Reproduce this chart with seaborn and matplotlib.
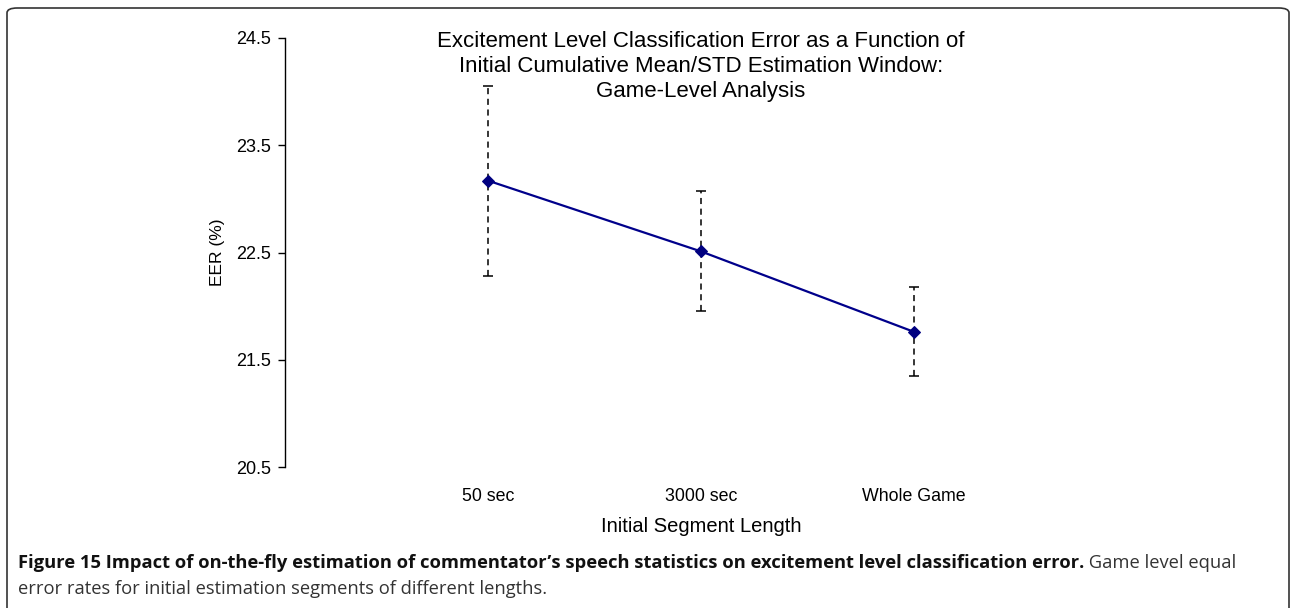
import matplotlib
matplotlib.use("Agg")
import matplotlib.pyplot as plt
from matplotlib.patches import FancyBboxPatch
import seaborn as sns
import pandas as pd

categories = ["50 sec", "3000 sec", "Whole Game"]
eer = [23.17, 22.51, 21.76]
err_upper = [24.05, 23.07, 22.18]
err_lower = [22.28, 21.95, 21.35]
yticks = [20.5, 21.5, 22.5, 23.5, 24.5]

title = ("Excitement Level Classification Error as a Function of\n"
         "Initial Cumulative Mean/STD Estimation Window:\n"
         "Game-Level Analysis")
caption_bold = "Figure 15 Impact of on-the-fly estimation of commentator\u2019s speech statistics on excitement level classification error."
caption_rest1 = " Game level equal"
caption_line2 = "error rates for initial estimation segments of different lengths."

sns.set_theme(style="white")
plt.rcParams['font.family'] = ['Liberation Sans', 'DejaVu Sans']

W, H = 1292, 608
fig = plt.figure(figsize=(W / 100, H / 100), dpi=100)
ax = fig.add_axes([285 / W, 1 - 467 / H, (1117 - 285) / W, (467 - 38) / H])

df = pd.DataFrame({"Initial Segment Length": categories, "EER (%)": eer})
xpos = list(range(len(categories)))
yerr = [[e - l for e, l in zip(eer, err_lower)], [u - e for e, u in zip(eer, err_upper)]]
eb = ax.errorbar(xpos, eer, yerr=yerr, fmt='none', ecolor='black', elinewidth=1.1,
                 capsize=3.5, capthick=1.1, zorder=2)
for lc in eb[2]:
    lc.set_linestyle((0, (4, 3)))

sns.lineplot(data=df, x="Initial Segment Length", y="EER (%)", ax=ax, color="#00008B",
             marker="D", markersize=6.5, markeredgecolor="#000080", markerfacecolor="#000080",
             linewidth=1.6, sort=False, zorder=3)

ax.set_xlim(-0.953, 2.953)
ax.set_ylim(20.5, 24.5)
ax.set_yticks(yticks)
ax.set_yticklabels([f"{t:.1f}" for t in yticks])
ax.set_xticks(xpos)
ax.set_xticklabels(categories)
for s in ["top", "right", "bottom"]:
    ax.spines[s].set_visible(False)
ax.spines["left"].set_color("black")
ax.spines["left"].set_linewidth(1.0)
ax.tick_params(axis="y", which="major", left=True, length=5, width=1, color="black",
               labelsize=13, pad=5, labelcolor="black")
ax.tick_params(axis="x", bottom=False, labelsize=12.8, pad=9, labelcolor="black")
ax.set_xlabel("Initial Segment Length", fontsize=14.5, labelpad=9, color="black")
ax.set_ylabel("EER (%)", fontsize=12.5, labelpad=8, color="black")

ax.text(0.5, (467 - 31) / 429, title, transform=ax.transAxes, ha="center", va="top",
        fontsize=16, linespacing=1.25, color="black")

# border
border = FancyBboxPatch((7 / W, -0.1), (1289 - 7) / W, 1 - 8 / H + 0.1,
                        boxstyle="round,pad=0,rounding_size=0.008",
                        transform=fig.transFigure, fill=False, edgecolor="#333333",
                        linewidth=1.2, clip_on=False)
fig.patches.append(border)

# caption (font size fitted so the first line spans like the original)
cap_font = ['Open Sans', 'DejaVu Sans']
base = 12
y1 = 1 - 563 / H
t1 = fig.text(18 / W, y1, caption_bold, fontsize=base, fontweight="bold",
              family=cap_font, va="center", ha="left", color="#111111")
t2 = fig.text(0, y1, caption_rest1, fontsize=base, family=cap_font,
              va="center", ha="left", color="#333333")
fig.canvas.draw()
r = fig.canvas.get_renderer()
total = t1.get_window_extent(r).width + t2.get_window_extent(r).width
size = base * (1235 - 18) / total
t1.set_fontsize(size)
t2.set_fontsize(size)
fig.canvas.draw()
bb = t1.get_window_extent(r)
t2.set_x(bb.x1 / W)
fig.text(18 / W, 1 - 589 / H, caption_line2, fontsize=size,
         family=cap_font, va="center", ha="left", color="#333333")

fig.savefig("out.png", dpi=100)
